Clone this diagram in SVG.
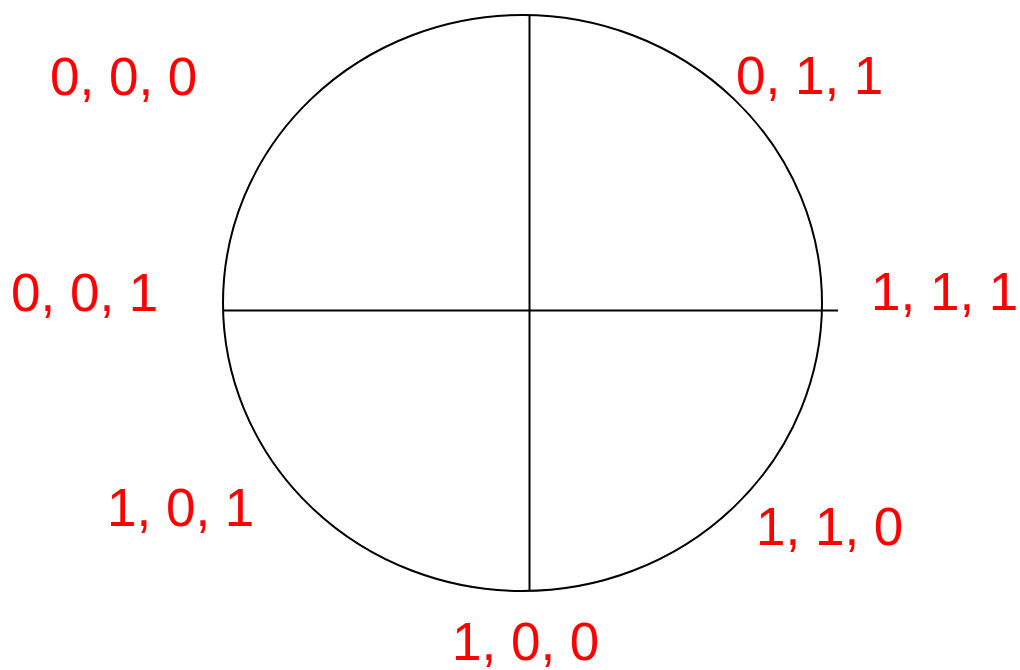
<svg xmlns="http://www.w3.org/2000/svg" width="1020" height="670" viewBox="0 0 1020 670">
<style>
.ln{fill:none;stroke:#000;stroke-width:2}
.lb{font-family:"Liberation Sans",Arial,sans-serif;font-size:53px;fill:#ff0000}
</style>
<rect width="1020" height="670" fill="#fff"/>
<g id="connectors">
<ellipse class="ln" cx="522.5" cy="303" rx="299.5" ry="288"/>
<line class="ln" x1="529.5" y1="15" x2="529.5" y2="591"/>
<line class="ln" x1="223" y1="310.5" x2="838" y2="310.5"/>
</g>
<g id="n000"><text class="lb" x="50" y="95">0, 0, 0</text></g>
<g id="n011"><text class="lb" x="736" y="94">0, 1, 1</text></g>
<g id="n001"><text class="lb" x="11" y="311">0, 0, 1</text></g>
<g id="n111"><text class="lb" x="871" y="310">1, 1, 1</text></g>
<g id="n101"><text class="lb" x="107" y="526">1, 0, 1</text></g>
<g id="n110"><text class="lb" x="756" y="545">1, 1, 0</text></g>
<g id="n100"><text class="lb" x="452" y="660">1, 0, 0</text></g>
</svg>
